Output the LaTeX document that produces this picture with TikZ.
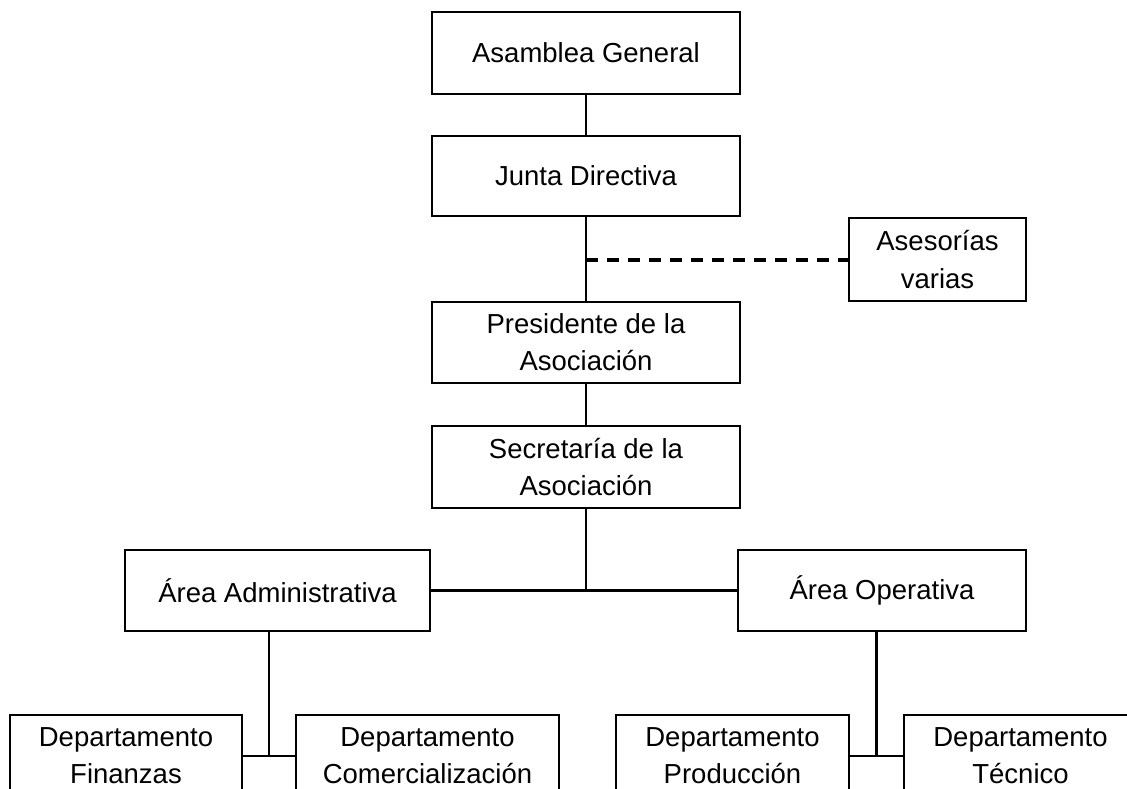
\documentclass[tikz,border=0pt]{standalone}
\usepackage{fontspec}
\setmainfont{Liberation Sans}
\usetikzlibrary{calc}

\begin{document}
\begin{tikzpicture}[x=0.5pt, y=-0.5pt, line width=1.3pt,
  box/.style={draw, align=center, inner sep=0pt, font=\fontsize{13.75}{18.5}\selectfont},
  wide/.style={box, minimum width=154pt, minimum height=41pt},
  dept/.style={box, minimum height=41pt}]
\useasboundingbox (0,0) rectangle (1127,788);
\clip (0,0) rectangle (1127,788);

\node[wide] (ag) at (586,53) {Asamblea General};
\node[wide, minimum height=40pt] (jd) at (586,176) {Junta Directiva};
\node[wide, minimum height=40.5pt] (pres) at (586,342.5) {Presidente de la\\Asociación};
\node[wide] (sec) at (586,467) {Secretaría de la\\Asociación};
\node[box, minimum width=88.5pt, minimum height=41.5pt] (ase) at (937.5,259.5) {Asesorías\\varias};
\node[box, minimum width=152.5pt, minimum height=40.5pt] (adm) at (277.5,590.5) {Área Administrativa};
\node[box, minimum width=144pt, minimum height=40.5pt] (ope) at (882,590.5) {Área Operativa};
\node[dept, minimum width=116pt] (fin) at (126,756) {Departamento\\Finanzas};
\node[dept, minimum width=131.5pt] (com) at (427.5,756) {Departamento\\Comercialización};
\node[dept, minimum width=116.5pt] (pro) at (732.5,756) {Departamento\\Producción};
\node[dept, minimum width=116.5pt] (tec) at (1020.5,756) {Departamento\\Técnico};

\draw (ag) -- (jd);
\draw (jd) -- (pres);
\draw (pres) -- (sec);
\draw[line width=2pt, dash pattern=on 6pt off 4.5pt] (ase -| jd) -- (ase);
\draw (sec) -- (sec |- adm);
\draw (adm) -- (ope);

\coordinate (ja) at ($(fin.east)!0.5!(com.west)$);
\coordinate (jo) at ($(pro.east)!0.5!(tec.west)$);
\draw (ja |- adm.south) -- (ja);
\draw (fin) -- (com);
\draw (jo |- ope.south) -- (jo);
\draw (pro) -- (tec);
\end{tikzpicture}
\end{document}
